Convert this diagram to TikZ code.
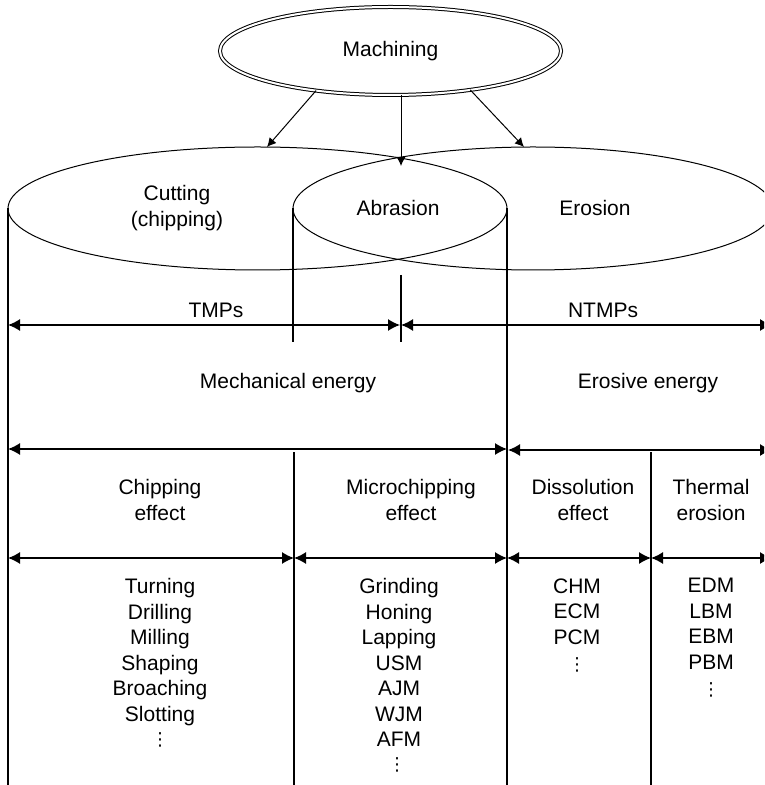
\documentclass[tikz,border=0pt]{standalone}
\usepackage{fontspec}
\setmainfont{Liberation Sans}
\newfontfamily\dotsfont{DejaVu Sans}
\usetikzlibrary{shapes.geometric,arrows.meta}

\begin{document}
\begin{tikzpicture}[x=0.5pt,y=-0.5pt,
  every node/.style={font=\fontsize{10.5}{12.75}\selectfont},
  oval/.style={draw,ellipse,inner sep=0pt,outer sep=0pt,line width=0.5pt},
  txt/.style={align=center,inner sep=0pt},
  more/.style={inner sep=0pt,font=\dotsfont\fontsize{9}{10}\selectfont},
  dimarrow/.style={{Latex[length=6pt,width=6pt]}-{Latex[length=6pt,width=6pt]},line width=0.7pt},
  feed/.style={-{Latex[length=4.5pt,width=4.5pt]},line width=0.5pt}]
  \useasboundingbox (0,0) rectangle (764,785);
  \clip (0,0) rectangle (764,785);

  % ovals
  \node[oval,double,double distance=1pt,minimum width=170.5pt,minimum height=44pt] (mach) at (390.5,51) {Machining};
  \node[oval,minimum width=249.5pt,minimum height=61.5pt] (cut) at (257.5,208.5) {};
  \node[oval,minimum width=240pt,minimum height=61.5pt] (ero) at (533,208.5) {};
  \node[txt] (cutlbl) at (177,208) {Cutting\\(chipping)};
  \node[txt] (abrlbl) at (398,208) {Abrasion};
  \node[txt] (erolbl) at (595,208) {Erosion};

  \coordinate (cuttop) at (267,147);
  \coordinate (abrtop) at (401,166);
  \coordinate (erotop) at (524,147);
  \draw[feed] (mach.208) -- (cuttop);
  \draw[feed] (abrtop |- mach.south) -- (abrtop);
  \draw[feed] (mach.334) -- (erotop);

  % vertical lines
  \coordinate (b1) at (8,785);
  \coordinate (b2) at (293,342);
  \coordinate (b3) at (507,785);
  \coordinate (m1) at (401,275);
  \coordinate (m2) at (401,342);
  \coordinate (c1) at (294,452);
  \coordinate (c2) at (294,785);
  \coordinate (d1) at (651,452);
  \coordinate (d2) at (651,785);
  \draw[line width=0.6pt] (cut.west) -- (b1);
  \draw[line width=0.6pt] (ero.west) -- (b2);
  \draw[line width=0.6pt] (cut.east) -- (b3);
  \draw[line width=0.6pt] (m1) -- (m2);
  \draw[line width=0.6pt] (c1) -- (c2);
  \draw[line width=0.6pt] (d1) -- (d2);

  % arrows
  \coordinate (t1) at (8,325);
  \coordinate (t2) at (400,325);
  \coordinate (t3) at (401,325);
  \coordinate (t4) at (772,325);
  \draw[dimarrow] (t1) -- (t2);
  \draw[dimarrow] (t3) -- (t4);
  \coordinate (e1) at (8,449);
  \coordinate (e2) at (507,449);
  \coordinate (e3) at (508,450);
  \coordinate (e4) at (772,450);
  \draw[dimarrow] (e1) -- (e2);
  \draw[dimarrow] (e3) -- (e4);
  \coordinate (f1) at (8,558);
  \coordinate (f2) at (294,558);
  \coordinate (f3) at (507,558);
  \coordinate (f4) at (651,558);
  \coordinate (f5) at (772,558);
  \draw[dimarrow] (f1) -- (f2);
  \draw[dimarrow] (f2) -- (f3);
  \draw[dimarrow] (f3) -- (f4);
  \draw[dimarrow] (f4) -- (f5);

  % labels
  \node[txt] (tmp) at (216,310) {TMPs};
  \node[txt] (ntmp) at (603,310) {NTMPs};
  \node[txt] (mech) at (288,383) {Mechanical energy};
  \node[txt] (eros) at (648,383) {Erosive energy};
  \node[txt] (chip) at (160,500) {Chipping\\effect};
  \node[txt] (micro) at (411,500) {Microchipping\\effect};
  \node[txt] (diss) at (583,500) {Dissolution\\effect};
  \node[txt] (therm) at (711,500) {Thermal\\erosion};

  \node[txt,anchor=north] (list1) at (160,578) {Turning\\Drilling\\Milling\\Shaping\\Broaching\\Slotting};
  \node[txt,anchor=north] (list2) at (399,578) {Grinding\\Honing\\Lapping\\USM\\AJM\\WJM\\AFM};
  \node[txt,anchor=north] (list3) at (577,578) {CHM\\ECM\\PCM};
  \node[txt,anchor=north] (list4) at (711,578) {EDM\\LBM\\EBM\\PBM};
  \node[more] (more1) at (160,740) {⋮};
  \node[more] (more2) at (397,765) {⋮};
  \node[more] (more3) at (577,665) {⋮};
  \node[more] (more4) at (711,690) {⋮};
\end{tikzpicture}
\end{document}
